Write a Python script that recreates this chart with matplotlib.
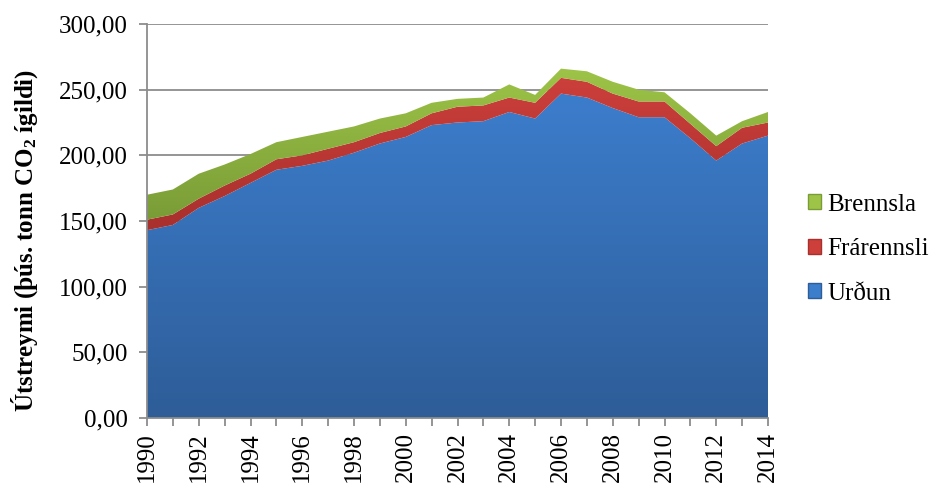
import numpy as np
import matplotlib
matplotlib.use("Agg")
import matplotlib.pyplot as plt
from matplotlib.colors import LinearSegmentedColormap
from matplotlib.patches import Patch
from matplotlib.ticker import FuncFormatter, MultipleLocator

plt.rcParams['font.family'] = ['Liberation Serif', 'DejaVu Serif']
plt.rcParams['mathtext.fontset'] = 'custom'
plt.rcParams['mathtext.rm'] = 'Liberation Serif:bold'
plt.rcParams['mathtext.bf'] = 'Liberation Serif:bold'
plt.rcParams['mathtext.default'] = 'bf'

years = list(range(1990, 2015))
urdun = [143, 147, 160, 169, 179, 189, 192, 196, 202, 209, 214, 223, 225,
         226, 233, 228, 247, 244, 236, 229, 229, 213, 196, 209, 215]
frarennsli = [8, 8, 7, 8, 7, 8, 8, 9, 8, 8, 8, 9, 12,
              12, 11, 12, 12, 12, 11, 12, 12, 11, 11, 12, 10]
brennsla = [19, 19, 19, 16, 15, 13, 14, 13, 12, 11, 10, 8, 6,
            6, 10, 6, 7, 8, 9, 9, 7, 8, 8, 5, 8]

series = [
    ('Urðun', urdun, '#2E5D98', '#3C7DCC'),
    ('Frárennsli', frarennsli, '#A8302D', '#CC3F3B'),
    ('Brennsla', brennsla, '#7A9C37', '#9DC447'),
]

fig = plt.figure(figsize=(9.38, 4.86), dpi=100)
ax = fig.add_axes([147/938, 1-418/486, (768-147)/938, (418-24)/486])

x = np.array(years, dtype=float)
base = np.zeros(len(years))
handles = []
for name, vals, dark, light in series:
    top = base + np.array(vals, dtype=float)
    poly = ax.fill_between(x, base, top, facecolor='none', edgecolor='none', zorder=2)
    cmap = LinearSegmentedColormap.from_list(name, [dark, light])
    grad = np.linspace(0, 1, 256).reshape(-1, 1)
    img = ax.imshow(grad, cmap=cmap, aspect='auto', origin='lower',
                    extent=[x[0], x[-1], base.min(), top.max()], zorder=2)
    img.set_clip_path(poly.get_paths()[0], transform=ax.transData)
    handles.append(Patch(facecolor=light, edgecolor=dark, label=name))
    base = top

ax.set_xlim(1990, 2014)
ax.set_ylim(0, 300)
ax.yaxis.set_major_locator(MultipleLocator(50))
ax.yaxis.set_major_formatter(FuncFormatter(lambda v, p: f'{v:.2f}'.replace('.', ',')))
ax.set_xticks(years)
ax.set_xticklabels([str(y) if y % 2 == 0 else '' for y in years], rotation=90)
ax.grid(axis='y', color='#8C8C8C', linewidth=1.3, zorder=1)
ax.set_axisbelow(True)

for s in ['top', 'right']:
    ax.spines[s].set_visible(False)
for s in ['left', 'bottom']:
    ax.spines[s].set_color('#8C8C8C')
    ax.spines[s].set_linewidth(1.3)
    ax.spines[s].set_zorder(3)
ax.tick_params(axis='both', colors='#8C8C8C', length=6, width=1.3, labelsize=18,
               labelcolor='black')
ax.tick_params(axis='y', pad=8)
ax.tick_params(axis='x', pad=4)

ax.set_ylabel('Útstreymi (þús. tonn CO$_2$ ígildi)', fontsize=18, fontweight='bold')
ax.yaxis.set_label_coords(-0.172, 0.45)

fig.legend(handles=handles[::-1], loc='center left', bbox_to_anchor=(785/938, 1-249/486),
           frameon=False, fontsize=18, handlelength=0.55, handleheight=0.55,
           handletextpad=0.25, labelspacing=0.9)

fig.savefig('out.png', dpi=100)
